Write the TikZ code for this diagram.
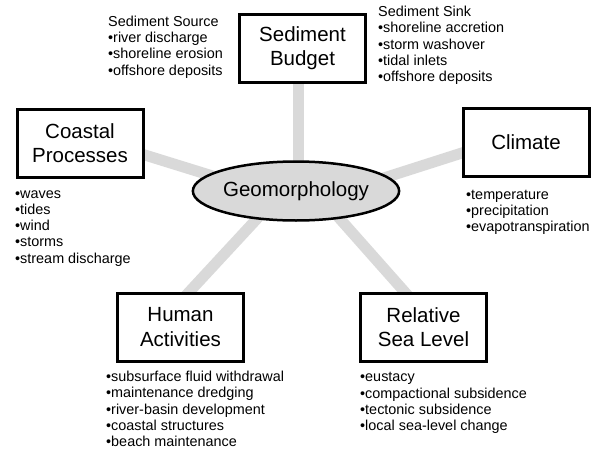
\documentclass[tikz,border=0pt]{standalone}
\usepackage{fontspec}
\setmainfont{Liberation Sans}
\usetikzlibrary{shapes.geometric,backgrounds}
\definecolor{linkgray}{RGB}{217,217,217}
\tikzset{
  topicbox/.style={draw=black, line width=3pt, fill=white, rectangle,
    minimum width=126pt, minimum height=68pt, inner sep=0pt,
    align=center, font=\fontsize{20.5}{24.5}\selectfont},
  hub/.style={draw=black, line width=2.5pt, fill=linkgray, ellipse,
    minimum width=201pt, minimum height=59pt, inner sep=0pt,
    font=\fontsize{20.5}{24}\selectfont},
  % lists are anchored on the baseline of their last line
  itemlist/.style={align=left, anchor=base west, inner sep=0pt,
    font=\fontsize{14.4}{16.2}\selectfont},
  link/.style={draw=linkgray, line width=11pt}
}
\newcommand{\itm}{\textbullet}
\begin{document}
\begin{tikzpicture}[x=1pt, y=-1pt]
  \useasboundingbox (0,0) rectangle (595,450);

  % central hub and the five factor boxes
  \node[hub] (geo) at (296,191) {Geomorphology};
  \node[topicbox] (budget) at (302.5,48) {Sediment\\Budget};
  \node[topicbox] (coast) at (80,143) {Coastal\\Processes};
  \node[topicbox] (climate) at (526,142) {Climate};
  \node[topicbox] (human) at (180.5,327) {Human\\Activities};
  \node[topicbox] (sea) at (423.5,327) {Relative\\Sea Level};

  % spoke ends, hidden under the boxes and the hub
  \coordinate (budget-end) at (298.5,70);
  \coordinate (budget-hub) at (298.5,190);
  \coordinate (coast-end) at (120,147.3);
  \coordinate (coast-hub) at (240,184.5);
  \coordinate (climate-end) at (490,144);
  \coordinate (climate-hub) at (360,185.6);
  \coordinate (human-end) at (179.9,302);
  \coordinate (human-hub) at (269.7,205);
  \coordinate (sea-end) at (414.5,303);
  \coordinate (sea-hub) at (330.3,208);

  \begin{pgfonlayer}{background}
    \draw[link] (budget-end) -- (budget-hub);
    \draw[link] (coast-end) -- (coast-hub);
    \draw[link] (climate-end) -- (climate-hub);
    \draw[link] (human-end) -- (human-hub);
    \draw[link] (sea-end) -- (sea-hub);
  \end{pgfonlayer}

  % factor details
  \node[itemlist] (source) at (108,75) {Sediment Source\\\itm river discharge\\\itm shoreline erosion\\\itm offshore deposits};
  \node[itemlist] (sink) at (378,81.5) {Sediment Sink\\\itm shoreline accretion\\\itm storm washover\\\itm tidal inlets\\\itm offshore deposits};
  \node[itemlist] (coastlist) at (15,263) {\itm waves\\\itm tides\\\itm wind\\\itm storms\\\itm stream discharge};
  \node[itemlist] (climatelist) at (466,231.5) {\itm temperature\\\itm precipitation\\\itm evapotranspiration};
  \node[itemlist] (humanlist) at (106,446.5) {\itm subsurface fluid withdrawal\\\itm maintenance dredging\\\itm river-basin development\\\itm coastal structures\\\itm beach maintenance};
  \node[itemlist] (sealist) at (360,430.5) {\itm eustacy\\\itm compactional subsidence\\\itm tectonic subsidence\\\itm local sea-level change};
\end{tikzpicture}
\end{document}
